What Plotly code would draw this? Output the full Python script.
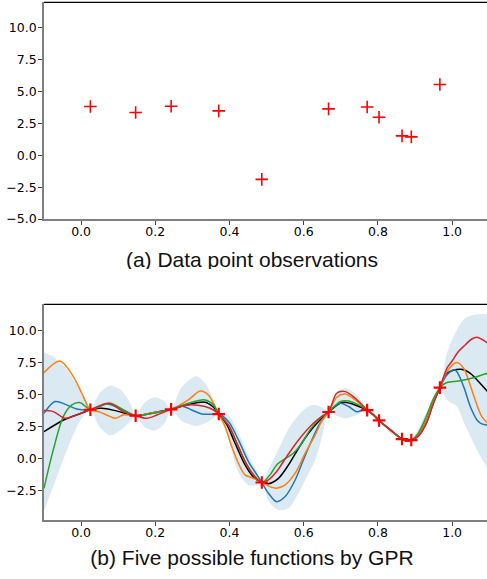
import plotly.graph_objects as go

# ---------------- data ----------------
obs_x = [0.025, 0.147, 0.2426, 0.371, 0.487, 0.667, 0.771, 0.803, 0.865, 0.890, 0.967]
obs_y = [3.82, 3.35, 3.85, 3.48, -1.89, 3.64, 3.79, 2.98, 1.52, 1.44, 5.55]

band_x = [-0.10, -0.075, -0.048, -0.025, 0.0, 0.025, 0.049, 0.078, 0.108, 0.132,
          0.147, 0.172, 0.20, 0.225, 0.2426, 0.27, 0.31, 0.334, 0.357, 0.371,
          0.397, 0.424, 0.451, 0.474, 0.487, 0.509, 0.532, 0.559, 0.586, 0.613,
          0.631, 0.652, 0.667, 0.689, 0.712, 0.743, 0.771, 0.787, 0.803, 0.835,
          0.865, 0.878, 0.890, 0.93, 0.967, 0.986, 1.013, 1.035, 1.067, 1.10]
band_upper = [8.30, 7.95, 7.30, 6.40, 5.20, 3.82, 5.10, 5.70, 5.35, 4.35,
              3.35, 4.40, 4.80, 4.45, 3.85, 5.55, 6.45, 5.90, 4.60, 3.48,
              3.40, 1.97, 0.27, -1.03, -1.89, -0.64, 0.70, 2.30, 3.40, 4.07,
              4.20, 3.95, 3.64, 5.24, 5.50, 5.00, 3.79, 3.50, 2.98, 2.45,
              1.52, 1.55, 1.44, 3.60, 5.55, 8.25, 10.10, 11.00, 11.31, 11.33]
band_lower = [-4.10, -2.20, -0.10, 1.60, 3.10, 3.82, 2.50, 1.80, 2.25, 2.90,
              3.35, 2.45, 2.20, 2.75, 3.85, 2.95, 2.55, 2.76, 3.15, 3.48,
              1.50, -1.10, -2.08, -2.08, -1.89, -3.52, -4.04, -3.90, -2.73, -1.16,
              -0.12, 2.00, 3.64, 3.35, 3.15, 3.41, 3.79, 3.30, 2.98, 1.95,
              1.52, 1.25, 1.44, 2.60, 5.55, 4.59, 4.07, 2.60, 0.67, -1.00]

blue_x = [-0.10, -0.070, -0.039, -0.012, 0.025, 0.069, 0.114, 0.147, 0.186, 0.2426,
          0.271, 0.298, 0.325, 0.352, 0.371, 0.397, 0.424, 0.451, 0.474, 0.487,
          0.505, 0.527, 0.550, 0.577, 0.599, 0.622, 0.644, 0.667, 0.698, 0.721,
          0.743, 0.761, 0.771, 0.788, 0.803, 0.835, 0.865, 0.878, 0.890, 0.909,
          0.932, 0.948, 0.967, 0.986, 1.008, 1.031, 1.049, 1.067, 1.080, 1.10]
blue_y = [3.54, 4.46, 4.20, 3.88, 3.82, 4.27, 3.80, 3.35, 3.50, 3.85,
          4.12, 3.80, 3.49, 3.46, 3.48, 2.89, 1.45, -0.25, -1.29, -1.89,
          -2.73, -3.39, -2.99, -1.69, -0.12, 1.45, 2.76, 3.64, 4.33, 4.07,
          3.67, 3.80, 3.79, 3.42, 2.98, 2.20, 1.52, 1.36, 1.44, 1.75,
          2.85, 4.20, 5.55, 6.55, 6.94, 5.63, 4.07, 3.02, 2.71, 2.60]

orange_x = [-0.10, -0.057, -0.021, 0.002, 0.025, 0.047, 0.069, 0.092, 0.114, 0.147,
            0.186, 0.2426, 0.289, 0.321, 0.343, 0.361, 0.371, 0.388, 0.406, 0.424,
            0.442, 0.465, 0.487, 0.514, 0.527, 0.550, 0.577, 0.604, 0.631, 0.649,
            0.667, 0.689, 0.712, 0.739, 0.771, 0.788, 0.803, 0.835, 0.865, 0.878,
            0.890, 0.909, 0.932, 0.948, 0.967, 0.986, 1.013, 1.031, 1.044, 1.062,
            1.080, 1.10]
orange_y = [6.73, 7.65, 6.42, 5.11, 3.82, 3.67, 3.41, 3.15, 3.41, 3.35,
            3.55, 3.85, 4.59, 5.29, 4.98, 4.07, 3.48, 2.50, 0.93, -0.38,
            -1.29, -1.56, -1.89, -2.26, -2.34, -2.08, -1.16, 0.41, 1.84, 2.95,
            3.64, 4.80, 5.05, 4.59, 3.79, 3.42, 2.98, 2.20, 1.52, 1.37,
            1.44, 1.84, 3.02, 4.33, 5.55, 6.81, 7.52, 7.07, 6.16, 4.59,
            3.28, 2.65]

green_x = [-0.10, -0.075, -0.048, -0.025, -0.004, 0.011, 0.025, 0.078, 0.114, 0.147,
           0.186, 0.2426, 0.289, 0.334, 0.357, 0.371, 0.397, 0.420, 0.447, 0.469,
           0.487, 0.509, 0.527, 0.545, 0.572, 0.595, 0.617, 0.644, 0.667, 0.698,
           0.721, 0.748, 0.771, 0.788, 0.803, 0.835, 0.865, 0.878, 0.890, 0.909,
           0.932, 0.948, 0.967, 0.986, 1.017, 1.053, 1.080, 1.10]
green_y = [-2.34, 0.67, 3.28, 4.20, 4.38, 4.10, 3.82, 4.33, 3.80, 3.35,
           3.50, 3.85, 4.33, 4.59, 4.20, 3.48, 2.63, 1.19, -0.51, -1.42,
           -1.89, -1.29, -0.51, -0.12, 0.41, 1.19, 2.24, 3.15, 3.64, 4.46,
           4.50, 4.20, 3.79, 3.42, 2.98, 2.20, 1.52, 1.38, 1.44, 2.00,
           3.40, 4.60, 5.55, 5.95, 6.08, 6.29, 6.55, 6.72]

red_x = [-0.10, -0.075, -0.043, -0.012, 0.025, 0.074, 0.114, 0.147, 0.177, 0.204,
         0.2426, 0.289, 0.334, 0.357, 0.371, 0.397, 0.420, 0.442, 0.469, 0.487,
         0.505, 0.527, 0.554, 0.586, 0.626, 0.649, 0.667, 0.689, 0.712, 0.739,
         0.771, 0.788, 0.803, 0.835, 0.865, 0.878, 0.890, 0.909, 0.932, 0.948,
         0.967, 0.986, 0.999, 1.017, 1.035, 1.053, 1.067, 1.080, 1.10]
red_y = [3.75, 3.67, 3.15, 3.41, 3.82, 4.33, 3.67, 3.35, 3.15, 3.40,
         3.85, 4.20, 4.07, 3.80, 3.48, 2.60, 1.19, -0.25, -1.48, -1.89,
         -1.69, -1.03, 0.14, 1.45, 2.76, 3.30, 3.64, 5.11, 5.24, 4.72,
         3.79, 3.42, 2.98, 2.20, 1.52, 1.36, 1.44, 1.75, 2.85, 4.20,
         5.55, 7.07, 7.60, 8.38, 8.90, 9.37, 9.50, 9.35, 8.95]

black_x = [-0.10, -0.043, 0.0, 0.025, 0.056, 0.092, 0.147, 0.186, 0.2426, 0.285,
           0.334, 0.357, 0.371, 0.393, 0.415, 0.442, 0.465, 0.487, 0.505, 0.532,
           0.559, 0.586, 0.613, 0.640, 0.667, 0.703, 0.725, 0.748, 0.771, 0.788,
           0.803, 0.835, 0.865, 0.878, 0.890, 0.909, 0.932, 0.948, 0.967, 0.986,
           1.022, 1.049, 1.071, 1.10]
black_y = [2.10, 3.07, 3.54, 3.82, 3.93, 3.75, 3.35, 3.55, 3.85, 4.20,
           4.41, 4.01, 3.48, 2.63, 1.19, -0.51, -1.48, -1.89, -1.98, -1.56,
           -0.51, 0.80, 1.97, 2.89, 3.64, 4.38, 4.33, 4.07, 3.79, 3.42,
           2.98, 2.20, 1.52, 1.37, 1.44, 1.84, 3.02, 4.33, 5.55, 6.68,
           6.99, 6.68, 6.03, 5.10]

x_ticks = [0.0, 0.2, 0.4, 0.6, 0.8, 1.0]
y_ticks_a = [-5.0, -2.5, 0.0, 2.5, 5.0, 7.5, 10.0]
y_ticks_b = [-2.5, 0.0, 2.5, 5.0, 7.5, 10.0]
caption_a = "(a) Data point observations"
caption_b = "(b) Five possible functions by GPR"

# ---------------- figure ----------------
W, H = 487, 579
fig = go.Figure()

# top: observations
fig.add_trace(go.Scatter(x=obs_x, y=obs_y, mode="markers", xaxis="x", yaxis="y",
                         marker=dict(symbol="cross-thin", size=9, color="red",
                                     line=dict(color="red", width=1.6)),
                         hoverinfo="skip", showlegend=False))

# bottom: confidence band
fig.add_trace(go.Scatter(x=band_x, y=band_lower, mode="lines", xaxis="x2", yaxis="y2",
                         line=dict(width=0, shape="spline", smoothing=0.8),
                         hoverinfo="skip", showlegend=False))
fig.add_trace(go.Scatter(x=band_x, y=band_upper, mode="lines", xaxis="x2", yaxis="y2",
                         line=dict(width=0, shape="spline", smoothing=0.8),
                         fill="tonexty", fillcolor="rgba(31,119,180,0.16)",
                         hoverinfo="skip", showlegend=False))

curves = [
    (black_x, black_y, "black"),
    (blue_x, blue_y, "#1f77b4"),
    (orange_x, orange_y, "#ff7f0e"),
    (green_x, green_y, "#2ca02c"),
    (red_x, red_y, "#d62728"),
]
for cx, cy, col in curves:
    fig.add_trace(go.Scatter(x=cx, y=cy, mode="lines", xaxis="x2", yaxis="y2",
                             line=dict(color=col, width=1.5, shape="spline", smoothing=0.9),
                             hoverinfo="skip", showlegend=False))

fig.add_trace(go.Scatter(x=obs_x, y=obs_y, mode="markers", xaxis="x2", yaxis="y2",
                         marker=dict(symbol="cross-thin", size=9, color="red",
                                     line=dict(color="red", width=2.2)),
                         hoverinfo="skip", showlegend=False))

# captions (as text traces in invisible axes; the first one is clipped at its bottom)
fig.add_trace(go.Scatter(x=[0.4695], y=[0.26], mode="text", text=[caption_a],
                         textposition="middle center", xaxis="x3", yaxis="y3",
                         textfont=dict(family="Liberation Sans, Arial, sans-serif", size=21, color="#111"),
                         cliponaxis=True, hoverinfo="skip", showlegend=False))
fig.add_trace(go.Scatter(x=[0.4695], y=[0.37], mode="text", text=[caption_b],
                         textposition="middle center", xaxis="x4", yaxis="y4",
                         textfont=dict(family="Liberation Sans, Arial, sans-serif", size=21, color="#111"),
                         cliponaxis=False, hoverinfo="skip", showlegend=False))

tickfont = dict(family="DejaVu Sans, sans-serif", size=12.5, color="black")
common_x = dict(range=[-0.1, 1.094], tickvals=x_ticks, tickformat=".1f",
                showline=True, linecolor="#7f7f7f", linewidth=1.6,
                ticks="outside", ticklen=4, tickwidth=1.1, tickcolor="#444",
                showgrid=False, zeroline=False, tickfont=tickfont, fixedrange=True,
                automargin=False, ticklabelstandoff=-4)
common_y = dict(tickformat=".1f", showline=True, linecolor="#7f7f7f", linewidth=1.6,
                ticks="outside", ticklen=4, tickwidth=1.1, tickcolor="#444",
                showgrid=False, zeroline=False, tickfont=tickfont, fixedrange=True,
                automargin=False, ticklabelstandoff=-1)
hidden = dict(range=[0, 1], visible=False, fixedrange=True, automargin=False)

def pfrac(px):
    return (H - px) / H

fig.update_layout(
    template="none",
    width=W, height=H,
    margin=dict(l=44, r=0, t=0, b=0, pad=0, autoexpand=False),
    paper_bgcolor="white", plot_bgcolor="white",
    xaxis=dict(domain=[0, 1], anchor="y", **common_x),
    yaxis=dict(domain=[pfrac(219), pfrac(2.3)], anchor="x", range=[-5, 12],
               tickvals=y_ticks_a, **common_y),
    xaxis2=dict(domain=[0, 1], anchor="y2", **common_x),
    yaxis2=dict(domain=[pfrac(520), pfrac(304.3)], anchor="x2", range=[-4.83, 12.09],
                tickvals=y_ticks_b, **common_y),
    xaxis3=dict(domain=[0, 1], anchor="y3", **hidden),
    yaxis3=dict(domain=[pfrac(269), pfrac(240)], anchor="x3", **hidden),
    xaxis4=dict(domain=[0, 1], anchor="y4", **hidden),
    yaxis4=dict(domain=[0, 0.09], anchor="x4", **hidden),
    shapes=[
        dict(type="line", xref="x domain", yref="y domain", x0=0, x1=1, y0=1, y1=1,
             line=dict(color="black", width=1.2), layer="above"),
        dict(type="line", xref="x2 domain", yref="y2 domain", x0=0, x1=1, y0=1, y1=1,
             line=dict(color="black", width=1.2), layer="above"),
    ],
)

fig.write_html("out.html", config={"displayModeBar": False},
               post_script="document.body.style.margin='0';document.body.style.overflow='hidden';")
